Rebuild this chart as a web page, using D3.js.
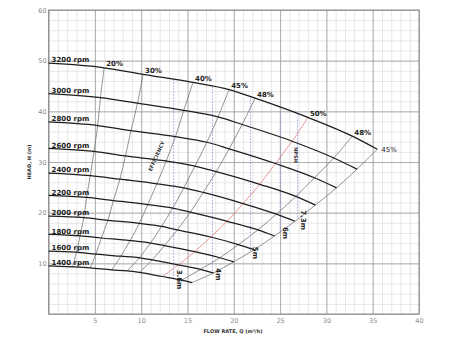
<!DOCTYPE html>
<html><head><meta charset="utf-8">
<script src="https://cdn.jsdelivr.net/npm/d3@7"></script>
<style>body{margin:0;background:#fff}svg{display:block}</style>
</head><body><svg id="c" width="450" height="338"></svg>
<script>
// ---- data ----
const speeds = [3200, 3000, 2800, 2600, 2400, 2200, 2000, 1800, 1600, 1400];
const speedLabels = ["3200 rpm","3000 rpm","2800 rpm","2600 rpm","2400 rpm","2200 rpm","2000 rpm","1800 rpm","1600 rpm","1400 rpm"];
// flow (m3/h) of each curve at Q=0 then at the efficiency lines 20,30,40,45,48,50,48,45 %
const flowPts = [
  [0, 6.0, 10.2, 15.6, 19.5, 22.3, 28.0, 32.8, 35.5],
  [0, 5.6,  9.6, 14.6, 18.3, 20.9, 26.3, 30.8, 33.3],
  [0, 5.3,  8.9, 13.7, 17.1, 19.5, 24.5, 28.7, 31.1],
  [0, 4.9,  8.3, 12.7, 15.8, 18.1, 22.8, 26.7, 28.8],
  [0, 4.5,  7.7, 11.7, 14.6, 16.7, 21.0, 24.6, 26.6],
  [0, 4.1,  7.0, 10.7, 13.4, 15.3, 19.3, 22.6, 24.4],
  [0, 3.8,  6.4,  9.8, 12.2, 13.9, 17.5, 20.5, 22.2],
  [0, 3.4,  5.7,  8.8, 11.0, 12.5, 15.8, 18.5, 20.0],
  [0, 3.0,  5.1,  7.8,  9.8, 11.2, 14.0, 16.4, 17.8],
  [0, 2.6,  4.5,  6.8,  8.5,  9.8, 12.3, 14.4, 15.5]
];
// head (m) at the same points
const headPts = [
  [49.5, 48.6, 47.3, 45.7, 44.3, 42.6, 38.8, 35.1, 32.5],
  [43.5, 42.7, 41.6, 40.2, 38.9, 37.4, 34.1, 30.8, 28.6],
  [37.9, 37.2, 36.2, 35.0, 33.9, 32.6, 29.7, 26.9, 24.9],
  [32.7, 32.1, 31.2, 30.2, 29.2, 28.1, 25.6, 23.2, 21.5],
  [27.8, 27.3, 26.6, 25.7, 24.9, 24.0, 21.8, 19.7, 18.3],
  [23.4, 23.0, 22.4, 21.6, 20.9, 20.1, 18.3, 16.6, 15.4],
  [19.3, 19.0, 18.5, 17.9, 17.3, 16.6, 15.2, 13.7, 12.7],
  [15.7, 15.4, 15.0, 14.5, 14.0, 13.5, 12.3, 11.1, 10.3],
  [12.4, 12.2, 11.8, 11.4, 11.1, 10.7,  9.7,  8.8,  8.1],
  [ 9.5,  9.3,  9.1,  8.7,  8.5,  8.2,  7.4,  6.7,  6.2]
];
const effLabels = ["20%","30%","40%","45%","48%","50%","48%","45%"];
const npshFlow = [13.5, 17.7, 21.8, 25.0, 26.9];
const npshLabels = ["3.6m","4m","5m","6m","7.3m"];
const xTicks = [5,10,15,20,25,30,35,40];
const yTicks = [10,20,30,40,50,60];

// ---- drawing ----
const svg = d3.select("#c");
const x = d3.scaleLinear().domain([0,40]).range([48.6,419]);
const y = d3.scaleLinear().domain([0,60]).range([314,10]);
const FONT = "'DejaVu Sans', Verdana, sans-serif";

// minor grid
const g = svg.append("g");
g.append("g").attr("transform","translate(0,314)")
  .call(d3.axisBottom(x).tickValues(d3.range(0,41,1)).tickSize(-304).tickFormat(""))
  .call(a=>a.selectAll("line").attr("stroke","#dcdcdc").attr("stroke-width",0.7))
  .call(a=>a.select(".domain").remove());
g.append("g").attr("transform","translate(48.6,0)")
  .call(d3.axisLeft(y).tickValues(d3.range(0,61,2)).tickSize(-370.4).tickFormat(""))
  .call(a=>a.selectAll("line").attr("stroke","#dcdcdc").attr("stroke-width",0.7))
  .call(a=>a.select(".domain").remove());
// major grid
g.append("g").attr("transform","translate(0,314)")
  .call(d3.axisBottom(x).tickValues(d3.range(0,41,5)).tickSize(-304).tickFormat(""))
  .call(a=>a.selectAll("line").attr("stroke","#a0a0a0").attr("stroke-width",0.8))
  .call(a=>a.select(".domain").remove());
g.append("g").attr("transform","translate(48.6,0)")
  .call(d3.axisLeft(y).tickValues(d3.range(0,61,10)).tickSize(-370.4).tickFormat(""))
  .call(a=>a.selectAll("line").attr("stroke","#a0a0a0").attr("stroke-width",0.8))
  .call(a=>a.select(".domain").remove());
// frame
svg.append("rect").attr("x",x(0)).attr("y",y(60)).attr("width",x(40)-x(0)).attr("height",y(0)-y(60))
  .attr("fill","none").attr("stroke","#8c8c8c").attr("stroke-width",1);

// tick labels
svg.append("g").attr("transform","translate(0,314)")
  .call(d3.axisBottom(x).tickValues(xTicks).tickSize(0).tickPadding(4))
  .call(a=>a.select(".domain").remove())
  .call(a=>a.selectAll("text").attr("fill","#8a8a8a").attr("font-size","6.5px").attr("font-family",FONT));
svg.append("g").attr("transform","translate(48.6,0)")
  .call(d3.axisLeft(y).tickValues(yTicks).tickSize(0).tickPadding(2))
  .call(a=>a.select(".domain").remove())
  .call(a=>a.selectAll("text").attr("fill","#8a8a8a").attr("font-size","6.5px").attr("font-family",FONT));

// axis titles
svg.append("text").attr("transform","translate(31,162) rotate(-90)").attr("text-anchor","middle")
  .attr("font-size","5px").attr("font-weight","bold").attr("font-family",FONT).attr("fill","#333")
  .text("HEAD, H (m)");
svg.append("text").attr("x",233).attr("y",333).attr("text-anchor","middle")
  .attr("font-size","5px").attr("font-weight","bold").attr("font-family",FONT).attr("fill","#333")
  .text("FLOW RATE, Q (m³/h)");

const pts = (s) => flowPts[s].map((q,i)=>[q, headPts[s][i]]);
const lineMono = d3.line().x(d=>x(d[0])).y(d=>y(d[1])).curve(d3.curveMonotoneX);
const lineCR = d3.line().x(d=>x(d[0])).y(d=>y(d[1])).curve(d3.curveCatmullRom);

// efficiency lines
effLabels.forEach((lab, k) => {
  const col = k + 1;
  const p = speeds.map((_, s) => [flowPts[s][col], headPts[s][col]]);
  svg.append("path").attr("d", lineCR(p)).attr("fill","none")
    .attr("stroke", lab === "50%" ? "#e87878" : "#707070").attr("stroke-width", 0.75);
});

// NPSH dashed lines
function interp(q, arr){
  for (let i=0;i<arr.length-1;i++){
    const a=arr[i], b=arr[i+1];
    const lo=Math.min(a[0],b[0]), hi=Math.max(a[0],b[0]);
    if (q>=lo && q<=hi){ const t=(q-a[0])/(b[0]-a[0]); return a[1]+t*(b[1]-a[1]); }
  }
  return null;
}
const topCurve = pts(0);
const lowCurve = pts(speeds.length-1);
const boundary = speeds.map((_, s)=>[flowPts[s][8], headPts[s][8]]).reverse();
npshFlow.forEach((q, i) => {
  const hTop = interp(q, topCurve);
  const hBot = q <= lowCurve[lowCurve.length-1][0] ? interp(q, lowCurve) : interp(q, boundary);
  svg.append("line").attr("x1",x(q)).attr("x2",x(q)).attr("y1",y(hTop)).attr("y2",y(hBot))
    .attr("stroke","#8080d8").attr("stroke-width",0.7).attr("stroke-dasharray","1.6,1.4");
  svg.append("text").attr("transform",`translate(${x(q)+3},${y(hBot)+1}) rotate(90)`)
    .attr("text-anchor","middle").attr("font-size","7px").attr("font-weight","bold")
    .attr("font-family",FONT).attr("fill","#222").text(npshLabels[i]);
});

// speed curves
speeds.forEach((sp, s) => {
  svg.append("path").attr("d", lineMono(pts(s))).attr("fill","none")
    .attr("stroke","#1e1e1e").attr("stroke-width",1.25);
  svg.append("text").attr("x", x(0)+3).attr("y", y(headPts[s][0])-0.8)
    .attr("font-size","7px").attr("font-weight","bold").attr("font-family",FONT)
    .attr("fill","#222").text(speedLabels[s]);
});

// efficiency labels at top curve
effLabels.forEach((lab, k) => {
  const col = k + 1;
  const px = x(flowPts[0][col]), py = y(headPts[0][col]);
  const last = k === effLabels.length-1;
  svg.append("text").attr("x", last ? px+4 : px+2).attr("y", last ? py+2.5 : py-1.5)
    .attr("font-size","7px").attr("font-weight", last ? "normal" : "bold").attr("font-family",FONT)
    .attr("fill","#222").text(lab);
});

// rotated captions
svg.append("text").attr("transform","translate(158,157) rotate(-66)").attr("text-anchor","middle")
  .attr("font-size","5px").attr("font-weight","bold").attr("font-family",FONT).attr("fill","#333")
  .text("EFFICIENCY");
svg.append("text").attr("transform",`translate(${x(npshFlow[4])-4},155) rotate(90)`).attr("text-anchor","middle")
  .attr("font-size","5px").attr("font-weight","bold").attr("font-family",FONT).attr("fill","#333")
  .text("NPSH");
</script></body></html>
